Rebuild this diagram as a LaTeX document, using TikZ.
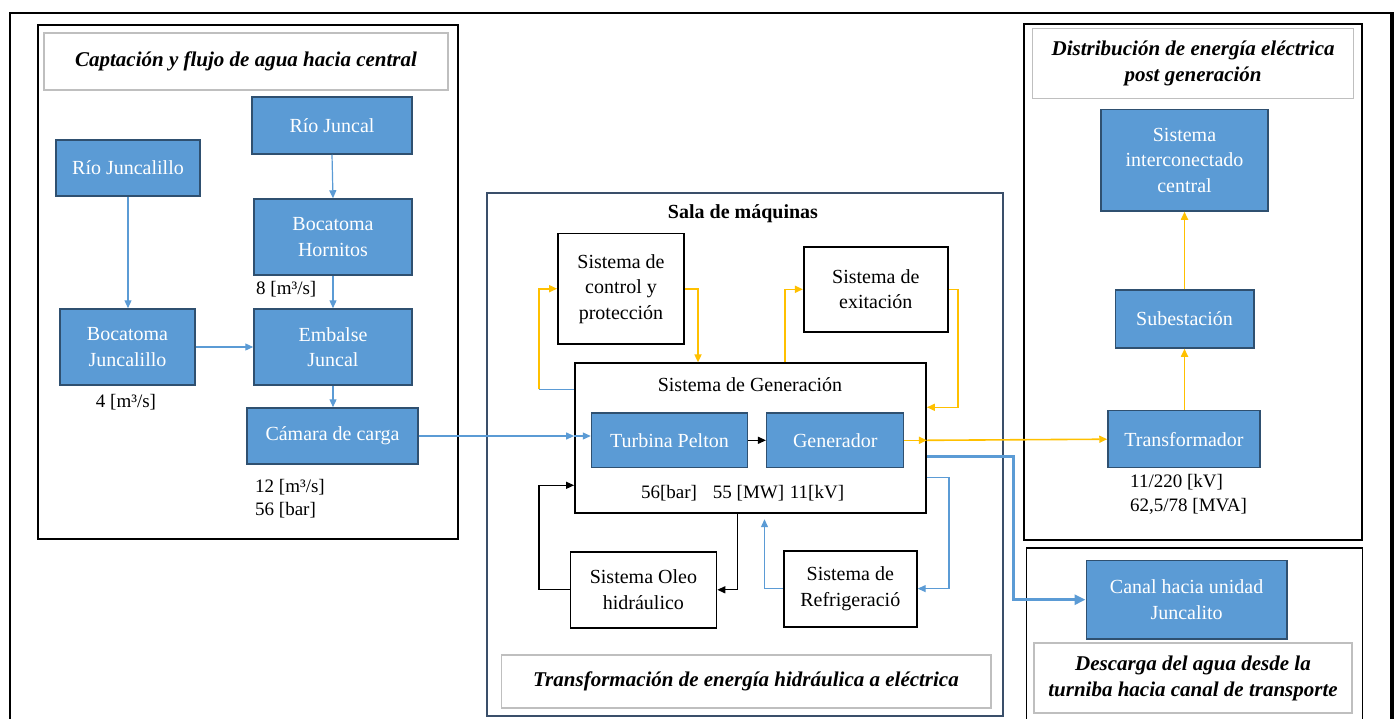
\documentclass[tikz,border=0pt]{standalone}
\usepackage{fontspec}
\setmainfont{Liberation Serif}
\usetikzlibrary{arrows.meta,calc}

\definecolor{boxblue}{HTML}{5B9BD5}
\definecolor{boxedge}{HTML}{2F5070}
\definecolor{flowblue}{HTML}{5B9BD5}
\definecolor{powyellow}{HTML}{FFC000}
\definecolor{framegray}{HTML}{BFBFBF}
\definecolor{roomedge}{HTML}{3A4F6A}

\newcommand\bxfont{\fontsize{20}{25.5}\selectfont}
\newcommand\ttlfont{\fontsize{21}{26}\selectfont\bfseries\itshape}
\newcommand\lbfont{\fontsize{19}{23}\selectfont}

\tikzset{
  bluebox/.style={draw=boxedge, fill=boxblue, line width=1.5pt, text=white,
    align=center, inner sep=0pt, font=\bxfont},
  whitebox/.style={draw=black, line width=1.8pt, fill=white,
    align=center, inner sep=0pt, font=\bxfont},
  titlebox/.style={draw=framegray, line width=1.5pt, align=center,
    inner sep=0pt, font=\ttlfont},
  panel/.style={draw=black, line width=2pt, inner sep=0pt},
  lbl/.style={inner sep=0pt, font=\lbfont},
  tipped/.style={-{Triangle[length=8pt,width=7pt]}},
  water/.style={draw=flowblue, line width=1.2pt},
  power/.style={draw=powyellow, line width=1.6pt},
  oil/.style={draw=black, line width=1.3pt},
  discharge/.style={draw=flowblue, line width=3pt,
    -{Triangle[length=11pt,width=10pt]}},
}

\begin{document}
\begin{tikzpicture}[x=1pt,y=-1pt]
\useasboundingbox (0,0) rectangle (1398,718);
\clip (0,0) rectangle (1398,718);

% outer frame (open at the bottom)
\draw[line width=1.6pt] (10,740) -- (10,13) -- (1392,13);
\draw[line width=3.5pt] (1392,12.2) -- (1392,740);

% ---------- water intake panel ----------
\node[panel, minimum width=420pt, minimum height=514pt] (lp) at (248,282) {};
\node[titlebox, minimum width=404pt, minimum height=57pt] (lt) at (246,61.5)
  {Captación y flujo de agua hacia central};

\node[bluebox, minimum width=144pt, minimum height=56pt] (rjl) at (128,168) {Río Juncalillo};
\node[bluebox, minimum width=160pt, minimum height=57pt] (rj) at (332,125.5) {Río Juncal};
\node[bluebox, minimum width=158pt, minimum height=76pt] (bh) at (333,237) {Bocatoma\\Hornitos};
\node[bluebox, minimum width=135pt, minimum height=76pt] (bj) at (127.5,347) {Bocatoma\\Juncalillo};
\node[bluebox, minimum width=158pt, minimum height=76pt] (ej) at (333,347) {Embalse\\Juncal};
\node[bluebox, minimum width=171pt, minimum height=56pt] (cc) at (332.5,436) {Cámara de carga};

\node[lbl, anchor=west] (q8) at (256,289) {8 [m³/s]};
\node[lbl] (q4) at (126,402) {4 [m³/s]};
\node[lbl, anchor=west] (q12) at (255,487) {12 [m³/s]};
\node[lbl, anchor=west] (p56) at (255,510) {56 [bar]};

\draw[water, tipped] (rjl.south) -- (rjl.south |- bj.north);
\draw[water, tipped] (rj.south) -- (bh.north);
\draw[water, tipped] (bh.south) -- (ej.north);
\draw[water, tipped] (bj.east) -- (ej.west);
\draw[water, tipped] (ej.south) -- (ej.south |- cc.north);

% ---------- machine room ----------
\node[draw=roomedge, line width=1.6pt, inner sep=0pt,
      minimum width=516pt, minimum height=523pt] (room) at (745,454.5) {};
\node[font=\fontsize{20}{24}\selectfont\bfseries, inner sep=0pt] (roomtitle) at (743,214) {Sala de máquinas};

\node[whitebox, minimum width=126pt, minimum height=110.5pt] (ctrl) at (621,288.7)
  {Sistema de\\control y\\protección};
\node[whitebox, minimum width=144pt, minimum height=85pt] (exc) at (875.8,289.3)
  {Sistema de\\exitación};
\node[whitebox, minimum width=351pt, minimum height=150pt] (gen) at (750.5,438.3) {};
\node[font=\bxfont, inner sep=0pt] (gentitle) at (750,384.4) {Sistema de Generación};
\node[bluebox, minimum width=156pt, minimum height=54.6pt] (turb) at (669.5,440.3) {Turbina Pelton};
\node[bluebox, minimum width=137pt, minimum height=54.6pt] (genr) at (835.2,440.3) {Generador};
\node[lbl] (gbar) at (669,493.6) {56[bar]};
\node[lbl] (gmw) at (748.6,493.6) {55 [MW]};
\node[lbl] (gkv) at (817,493.6) {11[kV]};

\node[whitebox, minimum width=146pt, minimum height=76pt] (oleo) at (643.4,589.8)
  {Sistema Oleo\\hidráulico};
\node[whitebox, minimum width=133pt, minimum height=76pt] (refr) at (850.3,588.6)
  {Sistema de\\Refrigeració};

\node[titlebox, minimum width=489.5pt, minimum height=53pt] (rt) at (746,681.3)
  {Transformación de energía hidráulica a eléctrica};

% water into the turbine
\draw[water, tipped] (cc.east) -- (gen.west |- cc.east);
\draw[water, tipped] (gen.west |- cc.east) -- (turb.west |- cc.east);
\draw[oil, tipped] (turb.east) -- (genr.west);

% control and excitation loops
\draw[water] ($(gen.west)+(0,-49)$) -- ($(gen.west)+(-35,-49)$);
\draw[power, tipped] ($(gen.west)+(-35,-49)$) |- (ctrl.west);
\draw[power, tipped] (ctrl.east) -| ($(gen.north)+(-52.5,0)$);
\draw[power, tipped] ($(gen.north)+(34.5,0)$) |- (exc.west);
\draw[power, tipped] (exc.east) -| ($(gen.east)+(31,-31)$) -- ($(gen.east)+(0,-31)$);

% oil-hydraulic loop
\draw[oil, tipped] ($(gen.south)+(-13,0)$) |- (oleo.east);
\draw[oil, tipped] (oleo.west) -| ($(gen.west)+(-35,47)$) -- ($(gen.west)+(0,47)$);

% cooling loop
\draw[water, tipped] ($(gen.east)+(0,39)$) -| ($(refr.east)+(31.2,0)$) -- (refr.east);
\draw[water, tipped, shorten >=5pt] (refr.west) -| ($(gen.south)+(14,0)$);

% ---------- distribution panel ----------
\node[panel, minimum width=338.4pt, minimum height=515.3pt] (dp) at (1192.8,281.9) {};
\node[titlebox, minimum width=320.8pt, minimum height=69.7pt] (dt) at (1193.1,63.5)
  {Distribución de energía eléctrica\\post generación};
\node[bluebox, minimum width=167.4pt, minimum height=101.6pt] (sic) at (1184.5,160.2)
  {Sistema\\interconectado\\central};
\node[bluebox, minimum width=138.5pt, minimum height=58pt] (sub) at (1184.5,319) {Subestación};
\node[bluebox, minimum width=152pt, minimum height=57pt] (trans) at (1184,439.2) {Transformador};
\node[lbl, anchor=west] (tkv) at (1130,482) {11/220 [kV]};
\node[lbl, anchor=west] (tmva) at (1130,506.4) {62,5/78 [MVA]};

\draw[power, tipped] (genr.east) -- (gen.east |- genr.east);
\draw[power, tipped] (gen.east |- genr.east) -- (trans.west);
\draw[power, tipped] (sub.south |- trans.north) -- (sub.south);
\draw[power, tipped] (sub.north) -- (sub.north |- sic.south);

% ---------- discharge panel (open at the bottom) ----------
\draw[line width=1.6pt] (1026.4,740) -- (1026.4,548.2) -- (1362.5,548.2) -- (1362.5,740);
\node[bluebox, minimum width=200.7pt, minimum height=78.3pt] (canal) at (1186.6,599.7)
  {Canal hacia unidad\\Juncalito};
\node[titlebox, minimum width=318pt, minimum height=69.6pt] (ct) at (1193,678)
  {Descarga del agua desde la\\turniba hacia canal de transporte};

\draw[discharge] ($(gen.east)+(0,18)$) -| ($(canal.west)+(-72,0)$) -- (canal.west);

\end{tikzpicture}
\end{document}
